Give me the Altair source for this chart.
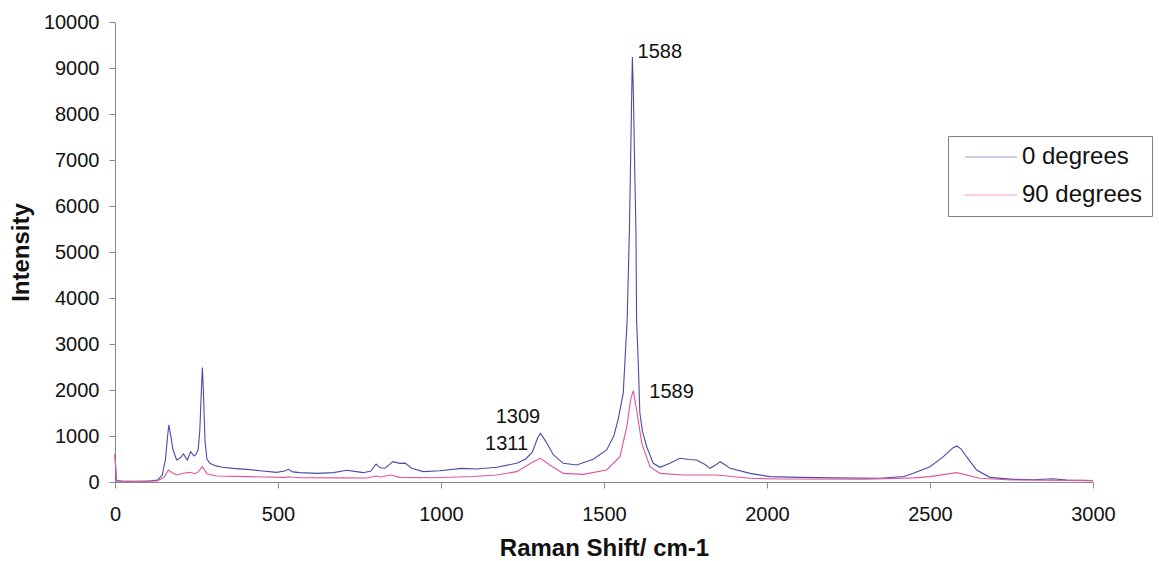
import altair as alt
import pandas as pd

# ---- data ----
x_0deg = [0, 4, 20, 60, 100, 130, 145, 155, 160, 165, 170, 178, 189, 200, 210, 218, 222, 232, 242, 248,
          255, 260, 265, 268, 271, 276, 282, 291, 310, 330, 363, 404, 445, 496, 520, 532, 545, 567, 619,
          670, 711, 740, 762, 785, 801, 808, 815, 828, 845, 852, 874, 890, 910, 946, 997, 1063, 1109,
          1171, 1232, 1260, 1280, 1296, 1305, 1320, 1345, 1375, 1416, 1467, 1508, 1530, 1543, 1559,
          1571, 1578, 1584, 1587, 1590, 1595, 1598, 1600, 1605, 1610, 1618, 1631, 1651, 1672, 1702,
          1733, 1760, 1784, 1810, 1825, 1845, 1856, 1870, 1887, 1948, 2009, 2101, 2200, 2347, 2420,
          2449, 2500, 2541, 2570, 2582, 2595, 2612, 2643, 2684, 2755, 2820, 2877, 2920, 3000]
y_0deg = [600, 30, 20, 15, 15, 40, 150, 500, 900, 1240, 1050, 700, 480, 520, 609, 520, 478, 659, 565, 600,
          700, 1100, 2000, 2490, 2000, 900, 500, 406, 350, 320, 297, 275, 246, 210, 240, 275, 220, 203, 188,
          203, 255, 225, 203, 240, 391, 340, 310, 300, 400, 442, 406, 410, 300, 225, 246, 297, 282,
          319, 406, 500, 650, 950, 1058, 900, 587, 406, 370, 493, 696, 1000, 1350, 1928,
          3520, 5480, 8000, 9240, 8500, 6500, 5480, 3520, 2600, 1500, 1100, 767, 406, 319, 406,
          515, 490, 478, 380, 297, 380, 442, 380, 297, 188, 116, 101, 90, 80, 120,
          188, 333, 550, 740, 783, 720, 550, 261, 101, 58, 50, 70, 40, 29]

x_90deg = [0, 4, 60, 130, 150, 164, 175, 189, 210, 230, 245, 255, 268, 282, 312, 404, 520, 532, 567, 700,
           772, 801, 815, 845, 874, 976, 1100, 1171, 1232, 1283, 1305, 1334, 1375, 1436, 1508, 1549,
           1570, 1582, 1590, 1600, 1616, 1641, 1672, 1743, 1846, 1948, 2040, 2300, 2450, 2500, 2582,
           2653, 2750, 3000]
y_90deg = [620, 20, 10, 25, 100, 261, 200, 152, 190, 210, 181, 220, 333, 181, 130, 116, 100, 115, 94, 90,
           87, 130, 110, 152, 101, 94, 120, 152, 225, 442, 515, 370, 188, 166, 261, 550,
           1203, 1800, 1985, 1565, 841, 333, 188, 152, 152, 80, 65, 60, 90, 116, 203,
           80, 43, 29]

series_names = ["0 degrees", "90 degrees"]
series_colors = ["#4a4aa8", "#e0559a"]

x_ticks = [0, 500, 1000, 1500, 2000, 2500, 3000]
y_ticks = [0, 1000, 2000, 3000, 4000, 5000, 6000, 7000, 8000, 9000, 10000]

ann_left_text = ["1588", "1589"]
ann_left_x = [1603, 1639]
ann_left_y = [9337, 1957]
ann_center_text = ["1309", "1311"]
ann_center_x = [1236, 1201]
ann_center_y = [1413, 826]

# ---- tables ----
df = pd.concat([
    pd.DataFrame({"shift": x_0deg, "intensity": y_0deg, "series": series_names[0], "ord": 1}),
    pd.DataFrame({"shift": x_90deg, "intensity": y_90deg, "series": series_names[1], "ord": 0}),
], ignore_index=True)
ann_l = pd.DataFrame({"t": ann_left_text, "x": ann_left_x, "y": ann_left_y})
ann_c = pd.DataFrame({"t": ann_center_text, "x": ann_center_x, "y": ann_center_y})

FONT = "Liberation Sans"

xscale = alt.Scale(domain=[0, 3000], nice=False, zero=False)
yscale = alt.Scale(domain=[0, 10000], nice=False)

lines = alt.Chart(df).mark_line(strokeWidth=1.1).encode(
    x=alt.X("shift:Q", scale=xscale,
            axis=alt.Axis(values=x_ticks, title="Raman Shift/ cm-1", format="d",
                          grid=False, domainColor="#8a8a8a", tickColor="#8a8a8a",
                          tickSize=6, labelPadding=16, labelFontSize=20, labelFont=FONT,
                          labelColor="#111111", labelFlush=False,
                          titleFont=FONT, titleFontSize=24, titleFontWeight="bold",
                          titleColor="#111111", titleBaseline="alphabetic",
                          titleX=489, titleY=73, titleAnchor="middle")),
    y=alt.Y("intensity:Q", scale=yscale,
            axis=alt.Axis(values=y_ticks, title="Intensity", format="d",
                          grid=False, domainColor="#8a8a8a", tickColor="#8a8a8a",
                          tickSize=6, labelPadding=10, labelFontSize=20, labelFont=FONT,
                          labelColor="#111111", labelFlush=False,
                          titleFont=FONT, titleFontSize=24, titleFontWeight="bold",
                          titleColor="#111111", titleBaseline="middle",
                          titleX=-94, titleY=230, titleAngle=270, titleAnchor="middle")),
    color=alt.Color("series:N",
                    scale=alt.Scale(domain=series_names, range=series_colors),
                    legend=alt.Legend(title=None, orient="none", legendX=833, legendY=114,
                                      symbolType="M-4,0H4", symbolSize=169, symbolStrokeWidth=1,
                                      symbolOpacity=0.55, labelFontSize=24, labelFont=FONT,
                                      labelColor="#111111", labelOffset=19, rowPadding=14,
                                      padding=9, symbolOffset=22,
                                      strokeColor="#808080", fillColor="white")),
    order=alt.Order("ord:Q"),
)

text_l = alt.Chart(ann_l).mark_text(align="left", baseline="middle", fontSize=20,
                                    font=FONT, color="#111111").encode(
    x=alt.X("x:Q", scale=xscale), y=alt.Y("y:Q", scale=yscale), text="t:N")
text_c = alt.Chart(ann_c).mark_text(align="center", baseline="middle", fontSize=20,
                                    font=FONT, color="#111111").encode(
    x=alt.X("x:Q", scale=xscale), y=alt.Y("y:Q", scale=yscale), text="t:N")

chart = alt.layer(lines, text_l, text_c).properties(
    width=978, height=460,
    autosize=alt.AutoSizeParams(type="none"),
    padding={"left": 115, "top": 22, "right": 66, "bottom": 79},
    background="white",
).configure_view(stroke=None)

chart.save("out.html", embed_options={"renderer": "svg", "actions": False})
